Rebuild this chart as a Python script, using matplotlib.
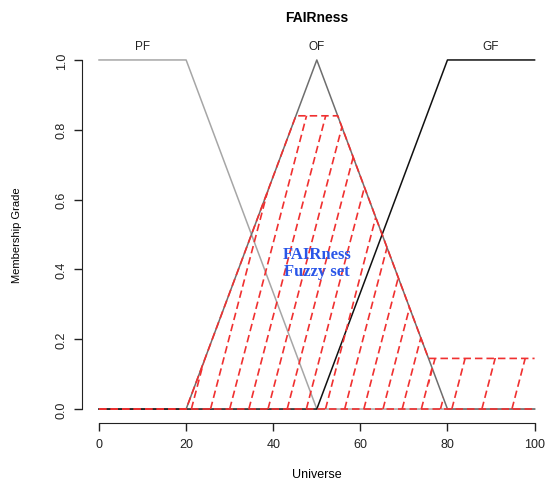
import matplotlib
matplotlib.use("Agg")
import matplotlib.pyplot as plt
import numpy as np
from matplotlib.patches import Polygon

# ---- data ----
pf_x = [0, 20, 50, 100]
pf_y = [1, 1, 0, 0]
of_x = [0, 20, 50, 80, 100]
of_y = [0, 0, 1, 0, 0]
gf_x = [0, 50, 80, 100]
gf_y = [0, 0, 1, 1]
set_labels = ["PF", "OF", "GF"]
label_x = [10, 50, 90]

# clipped memberships (fuzzy output)
fz_x = [0, 20, 45.2, 54.8, 75.65, 100]
fz_y = [0, 0, 0.84, 0.84, 0.145, 0.145]
ofc_x = [0, 20, 45.2, 54.8, 80, 100]
ofc_y = [0, 0, 0.84, 0.84, 0, 0]
gfc_x = [75.65, 75.65, 100, 100]
gfc_y = [0, 0.145, 0.145, 0]

xticks = [0, 20, 40, 60, 80, 100]
yticks = [0.0, 0.2, 0.4, 0.6, 0.8, 1.0]

W, H = 546, 481
fig = plt.figure(figsize=(W / 100, H / 100), dpi=100)
left_px, right_px, top_px, bot_px = 81.6, 552.0, 47.0, 424.0
ax = fig.add_axes([left_px / W, 1 - bot_px / H, (right_px - left_px) / W, (bot_px - top_px) / H])
ax.set_xlim(-4, 104)
ax.set_ylim(-0.04, 1.04)

plt.rcParams['font.family'] = ['Liberation Sans', 'DejaVu Sans']
sans = ['Liberation Sans', 'DejaVu Sans']

# membership functions
ax.plot(pf_x, pf_y, color="#a6a6a6", lw=1.1, zorder=2)
ax.plot(of_x, of_y, color="#6e6e6e", lw=1.1, zorder=2)
ax.plot(gf_x, gf_y, color="#111111", lw=1.1, zorder=2)
for lab, lx in zip(set_labels, label_x):
    ax.text(lx, 1.04, lab, ha="center", va="center", fontsize=8.5, family=sans, color="#222222")

red = "#f03030"
dash = (4.5, 2.4)

# hatching
def hatch(px, py, spacing, phase):
    poly = Polygon(np.column_stack([px, py]), closed=True, facecolor="none", edgecolor="none")
    ax.add_patch(poly)
    dxdy = 21.0
    starts = np.arange(phase - 40 * spacing, 110, spacing)
    for s in starts:
        ln, = ax.plot([s, s + dxdy * 1.1], [0, 1.1], color=red, lw=1.2, dashes=dash, zorder=3)
        ln.set_clip_path(poly)

hatch(ofc_x, ofc_y, 4.4, 30.0)
hatch(gfc_x, gfc_y, 6.9, 81.0)

# outline
ax.plot(fz_x, fz_y, color=red, lw=1.2, dashes=dash, zorder=4)
ax.plot([0, 100], [0, 0], color=red, lw=1.2, dashes=dash, zorder=4)

ax.text(50, 0.42, "FAIRness\nFuzzy set", ha="center", va="center", fontsize=12,
        family=["Liberation Serif", "DejaVu Serif"], fontweight="bold", color="#2a56e8",
        linespacing=1.05, zorder=5)

# R-style axes
for s in ["top", "right"]:
    ax.spines[s].set_visible(False)
ax.spines["left"].set_bounds(0, 1)
ax.spines["bottom"].set_bounds(0, 100)
ax.spines["left"].set_color("#222222")
ax.spines["bottom"].set_color("#222222")
ax.set_xticks(xticks)
ax.set_xticklabels([str(t) for t in xticks])
ax.set_yticks(yticks)
ax.set_yticklabels([f"{t:.1f}" for t in yticks], rotation=90, va="center")
ax.tick_params(axis="both", direction="out", length=6, width=1, colors="#222222", labelsize=9, pad=5)
ax.tick_params(axis="y", pad=4)
for lbl in ax.get_xticklabels() + ax.get_yticklabels():
    lbl.set_family(sans)

fig.text(317 / W, 1 - 18 / H, "FAIRness", ha="center", va="center", fontsize=10, fontweight="bold", family=sans)
fig.text(317 / W, 1 - 475 / H, "Universe", ha="center", va="center", fontsize=9, family=sans)
fig.text(17 / W, 1 - 235 / H, "Membership Grade", ha="center", va="center", fontsize=8, rotation=90, family=sans)

fig.savefig("out.png", dpi=100)
